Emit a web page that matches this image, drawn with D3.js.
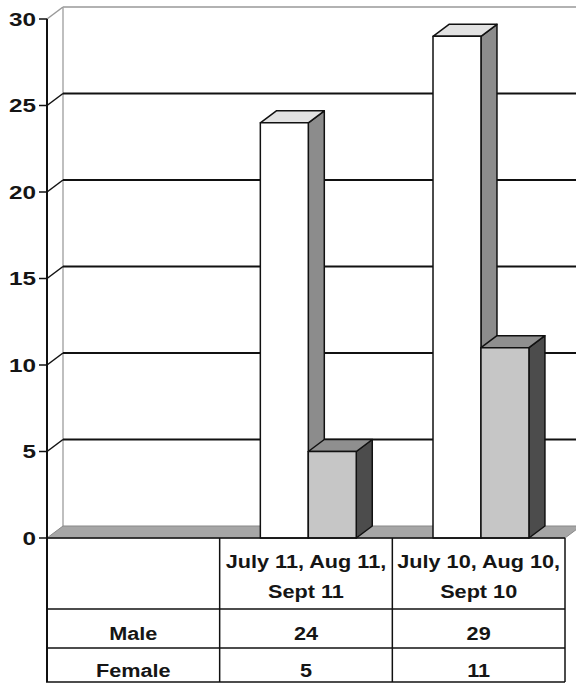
<!DOCTYPE html>
<html>
<head>
<meta charset="utf-8">
<script src="https://cdn.jsdelivr.net/npm/d3@7"></script>
<style>
    body { margin: 0; background: #fff; }
    svg { display: block; }
    text { font-family: "Liberation Sans", Arial, sans-serif; font-weight: bold; fill: #151515; }
</style>
</head>
<body>
<div id="chart"></div>
<script>
// data
var categories = ["July 11, Aug 11, Sept 11", "July 10, Aug 10, Sept 10"];
var seriesNames = ["Male", "Female"];
var male = [24, 29];
var female = [5, 11];
var yTicks = [0, 5, 10, 15, 20, 25, 30];

function chart(id) {
    var w = 576, h = 685;
    var svg = d3.select("#" + id).append("svg")
            .attr("width", w)
            .attr("height", h);

    var left = 47, right = 565;
    var depth = {x: 16, y: -12};
    var rowTop = 538, rowHeader = 609, rowMale = 648, rowBottom = 682;

    // first band is the row label column of the data table
    var x = d3.scaleBand()
            .domain([""].concat(categories))
            .range([left, right]);
    var x1 = d3.scaleBand()
            .domain(seriesNames)
            .range([0, x.bandwidth()])
            .paddingInner(0)
            .paddingOuter(0.8)
            .align(0.53);
    var y = d3.scaleLinear()
            .domain([0, 30])
            .range([rowTop, 19]);

    var values = {Male: male, Female: female};
    var colors = {
        Male: {front: "#ffffff", top: "#e2e2e2", side: "#8c8c8c"},
        Female: {front: "#c6c6c6", top: "#8f8f8f", side: "#4c4c4c"}
    };

    // the scanned text is wide, so stretch it sideways
    function label(sel, tx, ty, str, size, sx, anchor) {
        return sel.append("text")
                .attr("transform", "translate(" + tx + "," + ty + ") scale(" + sx + ",1)")
                .attr("text-anchor", anchor || "middle")
                .attr("font-size", size)
                .text(str);
    }

    // back wall
    var g = svg.append("g");
    g.append("line")
            .attr("x1", left + depth.x).attr("x2", w)
            .attr("y1", y(30) + depth.y).attr("y2", y(30) + depth.y)
            .attr("stroke", "#999").attr("stroke-width", 1.5);
    g.append("line")
            .attr("x1", left + depth.x).attr("x2", left + depth.x)
            .attr("y1", y(30) + depth.y).attr("y2", y(0) + depth.y)
            .attr("stroke", "#aaa").attr("stroke-width", 1.5);

    // gridlines: slant on side wall, then across the back wall
    yTicks.forEach(function (t) {
        if (t === 0) return;
        var stroke = t === 30 ? "#999" : "#111";
        g.append("line")
                .attr("x1", left).attr("y1", y(t))
                .attr("x2", left + depth.x).attr("y2", y(t) + depth.y)
                .attr("stroke", stroke).attr("stroke-width", 1.5);
        if (t !== 30) {
            g.append("line")
                    .attr("x1", left + depth.x).attr("x2", w)
                    .attr("y1", y(t) + depth.y).attr("y2", y(t) + depth.y)
                    .attr("stroke", "#111").attr("stroke-width", 2);
        }
    });

    // floor
    var y0 = y(0);
    g.append("polygon")
            .attr("points", [[left, y0], [right, y0], [right + depth.x, y0 + depth.y], [left + depth.x, y0 + depth.y]].join(" "))
            .attr("fill", "#a6a6a6")
            .attr("stroke", "#888")
            .attr("stroke-width", 1);

    // bars
    var bars = svg.append("g");
    categories.forEach(function (c, i) {
        seriesNames.forEach(function (s) {
            var v = values[s][i];
            var x0 = x(c) + x1(s), bw = x1.bandwidth();
            var top = y(v), bottom = y(0);
            var col = colors[s];
            var b = bars.append("g")
                    .attr("stroke", "#111")
                    .attr("stroke-width", 1.5)
                    .attr("stroke-linejoin", "round");
            b.append("polygon")
                    .attr("points", [[x0 + bw, top], [x0 + bw + depth.x, top + depth.y], [x0 + bw + depth.x, bottom + depth.y], [x0 + bw, bottom]].join(" "))
                    .attr("fill", col.side);
            b.append("polygon")
                    .attr("points", [[x0, top], [x0 + depth.x, top + depth.y], [x0 + bw + depth.x, top + depth.y], [x0 + bw, top]].join(" "))
                    .attr("fill", col.top);
            b.append("rect")
                    .attr("x", x0)
                    .attr("y", top)
                    .attr("width", bw)
                    .attr("height", bottom - top)
                    .attr("fill", col.front);
        });
    });

    // y axis
    var axis = svg.append("g");
    axis.append("line")
            .attr("x1", left).attr("x2", left)
            .attr("y1", y(30)).attr("y2", rowBottom)
            .attr("stroke", "#111").attr("stroke-width", 2);
    axis.selectAll(".tick")
            .data(yTicks)
            .enter().append("line")
            .attr("x1", left - 8).attr("x2", left)
            .attr("y1", function (d) { return y(d); })
            .attr("y2", function (d) { return y(d); })
            .attr("stroke", "#111").attr("stroke-width", 1.5);
    yTicks.forEach(function (t) {
        label(axis, 36, y(t) + 6.5, t, 18, 1.35, "end");
    });

    // data table
    var table = svg.append("g")
            .attr("stroke", "#111")
            .attr("stroke-width", 1.5);
    [rowTop, rowHeader, rowMale, rowBottom].forEach(function (ry) {
        table.append("line")
                .attr("x1", left - 1).attr("x2", right)
                .attr("y1", ry).attr("y2", ry);
    });
    x.domain().concat([null]).forEach(function (c) {
        var cx = c === null ? right : x(c);
        table.append("line")
                .attr("x1", cx).attr("x2", cx)
                .attr("y1", rowTop).attr("y2", rowBottom);
    });

    var cells = svg.append("g");
    categories.forEach(function (c, i) {
        var cx = x(c) + x.bandwidth() / 2;
        var parts = c.split(" Sept");
        label(cells, cx, 568, parts[0], 19, 1.14);
        label(cells, cx, 598, "Sept" + parts[1], 19, 1.14);
        label(cells, cx, 640, male[i], 19, 1.14);
        label(cells, cx, 677, female[i], 19, 1.14);
    });
    var lx = x("") + x.bandwidth() / 2;
    label(cells, lx, 640, seriesNames[0], 19, 1.14);
    label(cells, lx, 677, seriesNames[1], 19, 1.14);
}

chart("chart");
</script>
</body>
</html>
